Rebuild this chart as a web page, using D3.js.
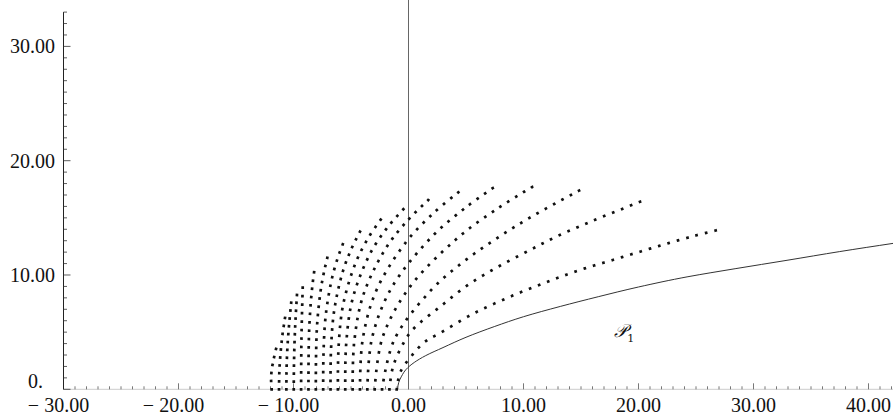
<!DOCTYPE html>
<html><head><meta charset="utf-8">
<script src="https://cdn.jsdelivr.net/npm/d3@7"></script>
<style>body{margin:0;background:#fff}svg{display:block}</style>
</head><body>
<svg id="chart" width="893" height="419"></svg>
<script>
// ---- tick data ----
const xMajorTicks = [-30, -20, -10, 0, 10, 20, 30, 40];
const xTickLabels = ["\u2212 30.00", "\u2212 20.00", "\u2212 10.00", "0.00", "10.00", "20.00", "30.00", "40.00"];
const yMajorTicks = [0, 10, 20, 30];
const yTickLabels = ["0.", "10.00", "20.00", "30.00"];

// ---- solid curve P1 ----
const p1Curve = [[-0.95,0],[-0.85,0.6],[-0.6,1.15],[-0.2,1.75],[0.5,2.35],[1.5,2.95],[3.0,3.65],[5.0,4.55],
  [7.5,5.5],[10.0,6.35],[13.2,7.25],[16.5,8.1],[20.0,8.95],[24.3,9.85],[28.4,10.55],[33.0,11.3],
  [37.5,12.05],[42.16,12.77]];
const p1Label = "\uD835\uDCAB";
const p1Sub = "1";
const p1LabelPos = [17.9, 4.6];

// ---- dotted curves (left to right) ----
const c00 = [[-11.9,0],[-11.95,1.0],[-11.85,2.0],[-11.7,2.75],[-11.52,3.53]];
const c01 = [[-11.26,0],[-11.23,1.56],[-11.13,3.12],[-10.97,4.68],[-10.74,6.24]];
const c02 = [[-10.62,0],[-10.6,1.9],[-10.52,3.79],[-10.38,5.69],[-10.2,7.58]];
const c03 = [[-9.98,0],[-9.96,2.06],[-9.91,4.13],[-9.82,6.19],[-9.7,8.25]];
const c04 = [[-9.34,0],[-9.33,2.22],[-9.31,4.45],[-9.26,6.67],[-9.2,8.89]];
const c05 = [[-8.7,0],[-8.69,2.56],[-8.64,5.12],[-8.49,7.68],[-8.34,9.22],[-8.21,10.24]];
const c06 = [[-8.06,0],[-8.04,2.88],[-7.94,5.75],[-7.64,8.63],[-7.33,10.35],[-7.06,11.5]];
const c07 = [[-7.42,0],[-7.39,3.17],[-7.21,6.34],[-6.7,9.51],[-6.18,11.41],[-5.72,12.68]];
const c08 = [[-6.78,0],[-6.74,3.45],[-6.46,6.9],[-5.7,10.34],[-4.91,12.41],[-4.22,13.79]];
const c09 = [[-6.14,0],[-6.08,3.71],[-5.68,7.42],[-4.57,11.13],[-3.43,13.36],[-2.42,14.84]];
const c10 = [[-5.5,0],[-5.42,3.94],[-4.87,7.88],[-3.37,11.81],[-1.82,14.18],[-0.45,15.75]];
const c11 = [[-4.86,0],[-4.72,4.14],[-3.92,8.28],[-1.92,12.42],[0.04,14.9],[1.72,16.56]];
const c12 = [[-4.22,0],[-3.99,4.31],[-2.81,8.62],[-0.18,12.92],[2.28,15.51],[4.33,17.23]];
const c13 = [[-3.58,0],[-3.19,4.4],[-1.52,8.8],[1.89,13.2],[4.89,15.84],[7.32,17.6]];
const c14 = [[-2.94,0],[-2.29,4.43],[0.04,8.85],[4.32,13.28],[7.91,15.93],[10.74,17.7]];
const c15 = [[-2.3,0],[-1.23,4.35],[1.98,8.69],[4.68,11.08],[7.67,13.21],[10.85,15.19],[14.83,17.38]];
const c16 = [[-1.66,0],[-1.34,2.0],[-0.37,4.16],[0.42,5.28],[2.83,7.29],[5.26,9.19],[7.81,10.73],[10.57,12.19],
  [12.74,13.3],[15.63,14.58],[18.63,15.8],[20.13,16.41]];
const c17 = [[-1.03,0],[-0.71,1.5],[0.28,2.94],[1.43,4.16],[2.8,4.95],[5.58,6.59],[8.63,8.01],[11.72,9.27],
  [14.91,10.44],[18.24,11.46],[21.58,12.48],[24.91,13.44],[27.52,14.09]];
const fanCurves = [c00,c01,c02,c03,c04,c05,c06,c07,c08,c09,c10,c11,c12,c13,c14,c15,c16,c17];

// ---- drawing ----
const svg = d3.select("#chart");
const x = d3.scaleLinear().domain([-30, 42.13]).range([63.5, 893]);
const y = d3.scaleLinear().domain([0, 33]).range([389.3, 12.1]);
const font = "'Liberation Serif','Times New Roman',serif";

// x axis (faint line) and ticks pointing up
svg.append("line").attr("x1", x(-30)).attr("x2", x(42.13)).attr("y1", y(0)).attr("y2", y(0))
  .attr("stroke", "#aaa").attr("stroke-width", 0.6);
const xMinor = d3.range(-29, 43).filter(v => v % 10 !== 0);
svg.append("g").selectAll("line").data(xMinor).join("line")
  .attr("x1", d => x(d)).attr("x2", d => x(d)).attr("y1", y(0)).attr("y2", y(0) - 3)
  .attr("stroke", "#555").attr("stroke-width", 0.8);
svg.append("g").selectAll("line").data(xMajorTicks).join("line")
  .attr("x1", d => x(d)).attr("x2", d => x(d)).attr("y1", y(0)).attr("y2", y(0) - 6)
  .attr("stroke", "#555").attr("stroke-width", 0.8);
svg.append("g").selectAll("text").data(xMajorTicks).join("text")
  .attr("x", (d, i) => x(d) + (d < 0 ? -5 : 0)).attr("y", 412)
  .attr("text-anchor", "middle").attr("font-family", font).attr("font-size", 20)
  .attr("fill", "#111").text((d, i) => xTickLabels[i]);

// y axis
svg.append("line").attr("x1", x(-30)).attr("x2", x(-30)).attr("y1", y(0)).attr("y2", y(33))
  .attr("stroke", "#222").attr("stroke-width", 1);
const yMinor = d3.range(1, 34).filter(v => v % 10 !== 0);
svg.append("g").selectAll("line").data(yMinor).join("line")
  .attr("x1", x(-30)).attr("x2", x(-30) + 3.5).attr("y1", d => y(d)).attr("y2", d => y(d))
  .attr("stroke", "#333").attr("stroke-width", 0.8);
svg.append("g").selectAll("line").data(yMajorTicks).join("line")
  .attr("x1", x(-30)).attr("x2", x(-30) + 7).attr("y1", d => y(d)).attr("y2", d => y(d))
  .attr("stroke", "#333").attr("stroke-width", 0.8);
svg.append("g").selectAll("text").data(yMajorTicks).join("text")
  .attr("x", d => d === 0 ? 43 : 55).attr("y", d => d === 0 ? y(d) - 1 : y(d) + 7)
  .attr("text-anchor", "end").attr("font-family", font).attr("font-size", 20)
  .attr("fill", "#111").text((d, i) => yTickLabels[i]);

// vertical line at x = 0
svg.append("line").attr("x1", x(0)).attr("x2", x(0)).attr("y1", y(0)).attr("y2", y(34.1))
  .attr("stroke", "#666").attr("stroke-width", 1);

// P1 solid curve
const p1Line = d3.line().x(d => x(d[0])).y(d => y(d[1])).curve(d3.curveMonotoneY);
const smooth = d3.line().x(d => x(d[0])).y(d => y(d[1])).curve(d3.curveCatmullRom.alpha(0.5));
svg.append("path").attr("d", p1Line(p1Curve)).attr("fill", "none")
  .attr("stroke", "#333").attr("stroke-width", 1);

// dotted curves
const dotSize = 2.7;
fanCurves.forEach((pts, k) => {
  const p = svg.append("path").attr("d", smooth(pts)).attr("fill", "none")
    .attr("stroke", "#111").attr("stroke-width", dotSize).attr("stroke-linecap", "square");
  const L = p.node().getTotalLength();
  const target = 7.9 + 1.7 * k / (fanCurves.length - 1);
  const n = Math.max(1, Math.round(L / target));
  const s = (L - 0.05) / n;
  p.attr("stroke-dasharray", `0.01 ${s - 0.01}`);
});

// label
const lab = svg.append("text").attr("x", x(p1LabelPos[0])).attr("y", y(p1LabelPos[1]))
  .attr("font-family", "'DejaVu Serif', serif").attr("font-size", 18).attr("font-style", "italic").attr("fill", "#111");
lab.append("tspan").text(p1Label);
lab.append("tspan").attr("dy", 5).attr("font-size", 11).attr("font-style", "normal").text(p1Sub);
</script>
</body></html>
